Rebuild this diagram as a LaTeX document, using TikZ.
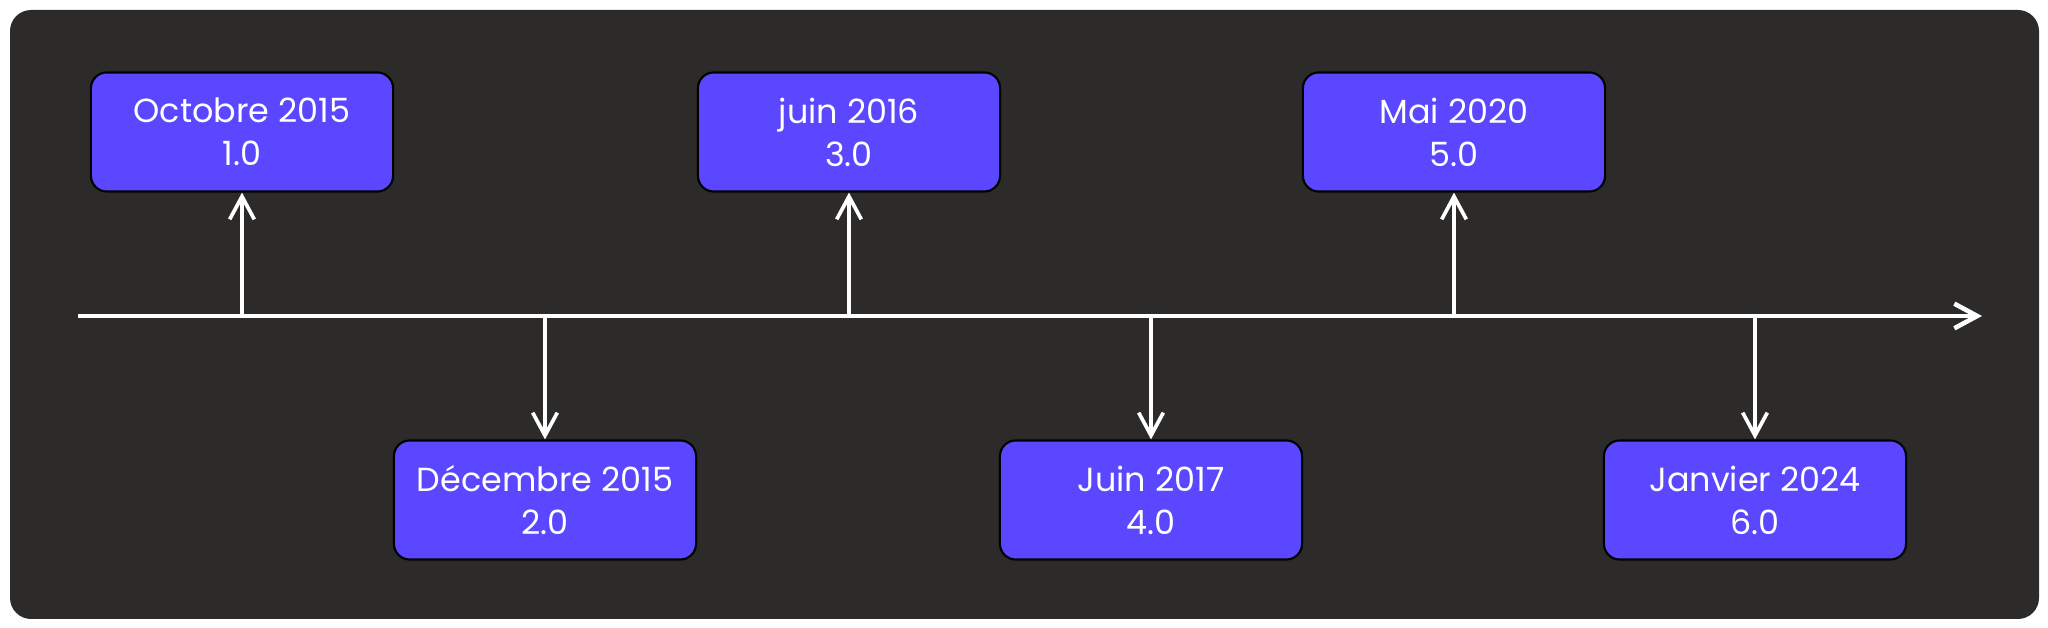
\documentclass[tikz,border=0pt]{standalone}
\usepackage{fontspec}
\setmainfont{Poppins}
\usetikzlibrary{arrows.meta}
\definecolor{board}{HTML}{2C2B29}
\definecolor{release}{HTML}{5B47FF}
\tikzset{version/.style = {draw=black, line width=0.6pt, fill=release, rounded corners=4.5pt,
                           minimum width=3.02cm, minimum height=1.19cm, align=center, text=white,
                           font=\fontsize{9.5}{12.2}\selectfont},
         tick/.style = {white, line width=1.05pt, -{Straight Barb[length=6.5pt, width=7pt, line width=1.05pt]}},
         axis/.style = {white, line width=1.3pt, -{Straight Barb[length=6.5pt, width=7pt, line width=1.3pt]}}}

\begin{document}
\begin{tikzpicture}[x=0.01cm, y=-0.01cm]
\useasboundingbox (0,0) rectangle (2048,628);
\fill[board, rounded corners=6pt] (10,10) rectangle (2039,619);
\coordinate (start) at (78,316);
\coordinate (end) at (1982,316);
\draw[axis] (start) -- (end);
\node[version] (v1) at (242,132) {Octobre 2015\\1.0};
\node[version] (v2) at (545,500) {Décembre 2015\\2.0};
\node[version] (v3) at (849,132) {juin 2016\\3.0};
\node[version] (v4) at (1151,500) {Juin 2017\\4.0};
\node[version] (v5) at (1454,132) {Mai 2020\\5.0};
\node[version] (v6) at (1755,500) {Janvier 2024\\6.0};
\coordinate (t1) at (242,316);
\coordinate (t2) at (545,316);
\coordinate (t3) at (849,316);
\coordinate (t4) at (1151,316);
\coordinate (t5) at (1454,316);
\coordinate (t6) at (1755,316);
\draw[tick] (t1) -- (v1.south);
\draw[tick] (t2) -- (v2.north);
\draw[tick] (t3) -- (v3.south);
\draw[tick] (t4) -- (v4.north);
\draw[tick] (t5) -- (v5.south);
\draw[tick] (t6) -- (v6.north);
\end{tikzpicture}
\end{document}
